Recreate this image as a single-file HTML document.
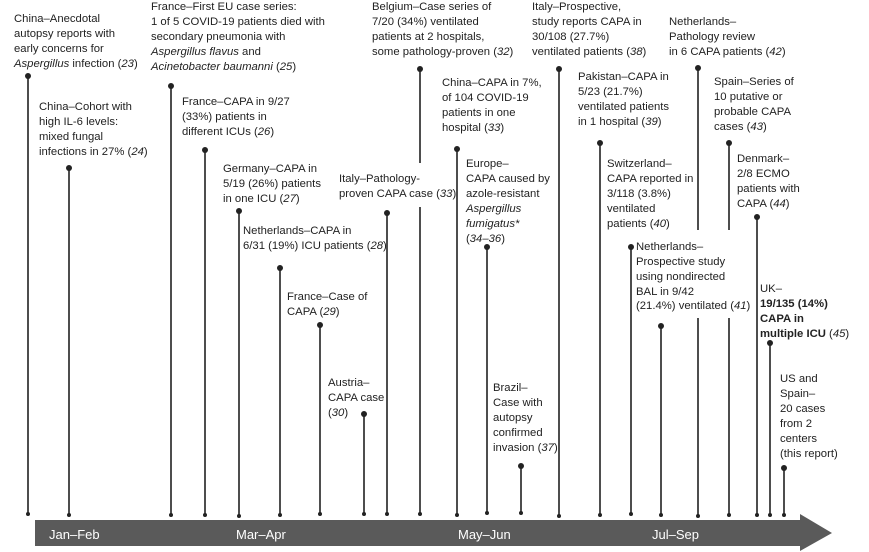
<!DOCTYPE html>
<html><head><meta charset="utf-8"><style>
html,body{margin:0;padding:0;background:#fff;}
svg{display:block;}
text{font-family:"Liberation Sans",sans-serif;font-size:11.3px;fill:#222;}
.i{font-style:italic;}
.b{font-weight:bold;}
</style></head><body>
<svg width="869" height="552" viewBox="0 0 869 552">
<polygon points="35,520 800,520 800,514 832,533 800,551 800,546 35,546" fill="#5a5a5a"/>
<text x="49" y="539" style="font-size:13px;fill:#fff">Jan–Feb</text>
<text x="236" y="539" style="font-size:13px;fill:#fff">Mar–Apr</text>
<text x="458" y="539" style="font-size:13px;fill:#fff">May–Jun</text>
<text x="652" y="539" style="font-size:13px;fill:#fff">Jul–Sep</text>

<g stroke="#222" stroke-width="1.6">
<line x1="28" y1="76" x2="28" y2="514"/>
<line x1="69" y1="168" x2="69" y2="515"/>
<line x1="171" y1="86" x2="171" y2="515"/>
<line x1="205" y1="150" x2="205" y2="515"/>
<line x1="239" y1="211" x2="239" y2="516"/>
<line x1="280" y1="268" x2="280" y2="515"/>
<line x1="320" y1="325" x2="320" y2="514"/>
<line x1="364" y1="414" x2="364" y2="514"/>
<line x1="387" y1="213" x2="387" y2="514"/>
<line x1="420" y1="69" x2="420" y2="163"/>
<line x1="420" y1="207" x2="420" y2="514"/>
<line x1="457" y1="149" x2="457" y2="515"/>
<line x1="487" y1="247" x2="487" y2="513"/>
<line x1="521" y1="466" x2="521" y2="513"/>
<line x1="559" y1="69" x2="559" y2="516"/>
<line x1="600" y1="143" x2="600" y2="515"/>
<line x1="631" y1="247" x2="631" y2="514"/>
<line x1="661" y1="326" x2="661" y2="515"/>
<line x1="698" y1="68" x2="698" y2="230"/>
<line x1="698" y1="318" x2="698" y2="516"/>
<line x1="729" y1="143" x2="729" y2="230"/>
<line x1="729" y1="318" x2="729" y2="515"/>
<line x1="757" y1="217" x2="757" y2="515"/>
<line x1="770" y1="343" x2="770" y2="515"/>
<line x1="784" y1="468" x2="784" y2="515"/>
</g>
<g fill="#222">
<circle cx="28" cy="76" r="3"/><circle cx="69" cy="168" r="3"/><circle cx="171" cy="86" r="3"/>
<circle cx="205" cy="150" r="3"/><circle cx="239" cy="211" r="3"/><circle cx="280" cy="268" r="3"/>
<circle cx="320" cy="325" r="3"/><circle cx="364" cy="414" r="3"/><circle cx="387" cy="213" r="3"/>
<circle cx="420" cy="69" r="3"/><circle cx="457" cy="149" r="3"/><circle cx="487" cy="247" r="3"/>
<circle cx="521" cy="466" r="3"/><circle cx="559" cy="69" r="3"/><circle cx="600" cy="143" r="3"/>
<circle cx="631" cy="247" r="3"/><circle cx="661" cy="326" r="3"/><circle cx="698" cy="68" r="3"/>
<circle cx="729" cy="143" r="3"/><circle cx="757" cy="217" r="3"/><circle cx="770" cy="343" r="3"/>
<circle cx="784" cy="468" r="3"/>
<circle cx="28" cy="514" r="2"/><circle cx="69" cy="515" r="2"/><circle cx="171" cy="515" r="2"/>
<circle cx="205" cy="515" r="2"/><circle cx="239" cy="516" r="2"/><circle cx="280" cy="515" r="2"/>
<circle cx="320" cy="514" r="2"/><circle cx="364" cy="514" r="2"/><circle cx="387" cy="514" r="2"/>
<circle cx="420" cy="514" r="2"/><circle cx="457" cy="515" r="2"/><circle cx="487" cy="513" r="2"/>
<circle cx="521" cy="513" r="2"/><circle cx="559" cy="516" r="2"/><circle cx="600" cy="515" r="2"/>
<circle cx="631" cy="514" r="2"/><circle cx="661" cy="515" r="2"/><circle cx="698" cy="516" r="2"/>
<circle cx="729" cy="515" r="2"/><circle cx="757" cy="515" r="2"/><circle cx="770" cy="515" r="2"/>
<circle cx="784" cy="515" r="2"/>
</g>

<text x="14" y="22">China–Anecdotal</text>
<text x="14" y="37">autopsy reports with</text>
<text x="14" y="52">early concerns for</text>
<text x="14" y="67"><tspan class="i">Aspergillus</tspan> infection (<tspan class="i">23</tspan>)</text>

<text x="151" y="10">France–First EU case series:</text>
<text x="151" y="25">1 of 5 COVID-19 patients died with</text>
<text x="151" y="40">secondary pneumonia with</text>
<text x="151" y="55"><tspan class="i">Aspergillus flavus</tspan> and</text>
<text x="151" y="70"><tspan class="i">Acinetobacter baumanni</tspan> (<tspan class="i">25</tspan>)</text>

<text x="39" y="110">China–Cohort with</text>
<text x="39" y="125">high IL-6 levels:</text>
<text x="39" y="140">mixed fungal</text>
<text x="39" y="155">infections in 27% (<tspan class="i">24</tspan>)</text>

<text x="182" y="105">France–CAPA in 9/27</text>
<text x="182" y="120">(33%) patients in</text>
<text x="182" y="135">different ICUs (<tspan class="i">26</tspan>)</text>

<text x="223" y="172">Germany–CAPA in</text>
<text x="223" y="187">5/19 (26%) patients</text>
<text x="223" y="202">in one ICU (<tspan class="i">27</tspan>)</text>

<text x="243" y="234">Netherlands–CAPA in</text>
<text x="243" y="249">6/31 (19%) ICU patients (<tspan class="i">28</tspan>)</text>

<text x="339" y="182">Italy–Pathology-</text>
<text x="339" y="197">proven CAPA case (<tspan class="i">33</tspan>)</text>

<text x="372" y="10">Belgium–Case series of</text>
<text x="372" y="25">7/20 (34%) ventilated</text>
<text x="372" y="40">patients at 2 hospitals,</text>
<text x="372" y="55">some pathology-proven (<tspan class="i">32</tspan>)</text>

<text x="442" y="86">China–CAPA in 7%,</text>
<text x="442" y="101">of 104 COVID-19</text>
<text x="442" y="116">patients in one</text>
<text x="442" y="131">hospital (<tspan class="i">33</tspan>)</text>

<text x="466" y="167">Europe–</text>
<text x="466" y="182">CAPA caused by</text>
<text x="466" y="197">azole-resistant</text>
<text x="466" y="212" class="i">Aspergillus</text>
<text x="466" y="227" class="i">fumigatus*</text>
<text x="466" y="242">(<tspan class="i">34–36</tspan>)</text>

<text x="532" y="10">Italy–Prospective,</text>
<text x="532" y="25">study reports CAPA in</text>
<text x="532" y="40">30/108 (27.7%)</text>
<text x="532" y="55">ventilated patients (<tspan class="i">38</tspan>)</text>

<text x="578" y="80">Pakistan–CAPA in</text>
<text x="578" y="95">5/23 (21.7%)</text>
<text x="578" y="110">ventilated patients</text>
<text x="578" y="125">in 1 hospital (<tspan class="i">39</tspan>)</text>

<text x="607" y="167">Switzerland–</text>
<text x="607" y="182">CAPA reported in</text>
<text x="607" y="197">3/118 (3.8%)</text>
<text x="607" y="212">ventilated</text>
<text x="607" y="227">patients (<tspan class="i">40</tspan>)</text>

<text x="669" y="25">Netherlands–</text>
<text x="669" y="40">Pathology review</text>
<text x="669" y="55">in 6 CAPA patients (<tspan class="i">42</tspan>)</text>

<text x="714" y="85">Spain–Series of</text>
<text x="714" y="100">10 putative or</text>
<text x="714" y="115">probable CAPA</text>
<text x="714" y="130">cases (<tspan class="i">43</tspan>)</text>

<text x="737" y="162">Denmark–</text>
<text x="737" y="177">2/8 ECMO</text>
<text x="737" y="192">patients with</text>
<text x="737" y="207">CAPA (<tspan class="i">44</tspan>)</text>

<text x="636" y="250">Netherlands–</text>
<text x="636" y="265">Prospective study</text>
<text x="636" y="280">using nondirected</text>
<text x="636" y="295">BAL in 9/42</text>
<text x="636" y="309">(21.4%) ventilated (<tspan class="i">41</tspan>)</text>

<text x="287" y="300">France–Case of</text>
<text x="287" y="315">CAPA (<tspan class="i">29</tspan>)</text>

<text x="328" y="386">Austria–</text>
<text x="328" y="401">CAPA case</text>
<text x="328" y="416">(<tspan class="i">30</tspan>)</text>

<text x="493" y="391">Brazil–</text>
<text x="493" y="406">Case with</text>
<text x="493" y="421">autopsy</text>
<text x="493" y="436">confirmed</text>
<text x="493" y="451">invasion (<tspan class="i">37</tspan>)</text>

<text x="760" y="292">UK–</text>
<text x="760" y="307" class="b">19/135 (14%)</text>
<text x="760" y="322" class="b">CAPA in</text>
<text x="760" y="337"><tspan class="b">multiple ICU</tspan> (<tspan class="i">45</tspan>)</text>

<text x="780" y="382">US and</text>
<text x="780" y="397">Spain–</text>
<text x="780" y="412">20 cases</text>
<text x="780" y="427">from 2</text>
<text x="780" y="442">centers</text>
<text x="780" y="457">(this report)</text>
</svg>
</body></html>
